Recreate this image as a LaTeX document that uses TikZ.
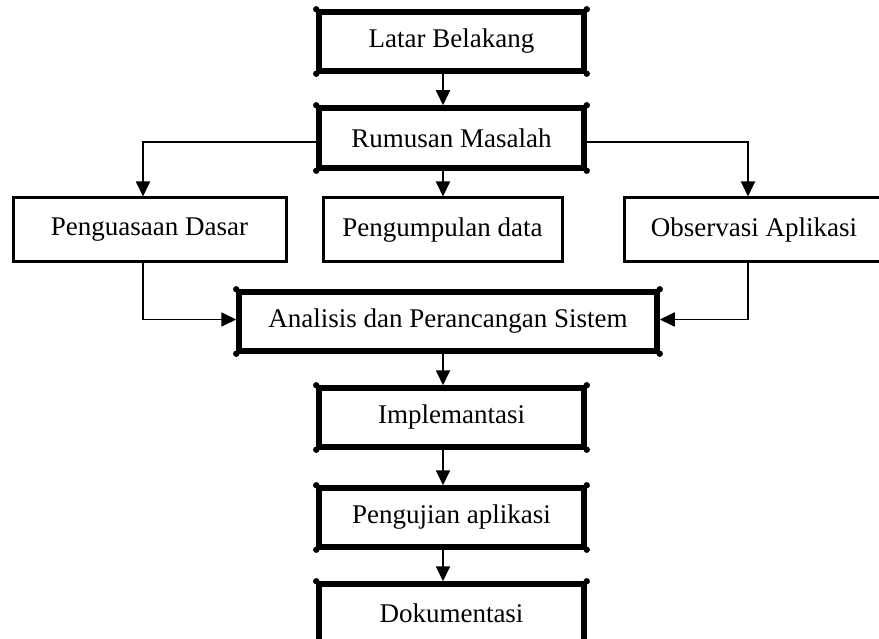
\documentclass[tikz,border=0pt]{standalone}
\usepackage{fontspec}
\setmainfont{Liberation Serif}
\usetikzlibrary{arrows.meta}
\tikzset{
    tebal/.style = {draw, line width = 5.5pt, minimum width = 265pt, minimum height = 59pt, inner sep = 0pt},
    tipis/.style = {draw, line width = 3pt, minimum height = 64pt, inner sep = 0pt},
    panah/.style = {line width = 1.8pt, -{Triangle[length = 15pt, width = 14pt]}}
}
\begin{document}
\begin{tikzpicture}[x = 1pt, y = -1pt, font = \fontsize{27}{30}\selectfont]
    \useasboundingbox (0,0) rectangle (879,639);
    \clip (0,0) rectangle (879,639);
    \def\ax{443}
    \coordinate (ax) at (\ax,0);
    \node[tebal] (latar) at (451.5,41.5) {Latar Belakang};
    \node[tebal, minimum height = 60pt] (rumusan) at (451.5,138) {Rumusan Masalah};
    \node[tipis, minimum width = 273pt] (penguasaan) at (149.5,230) {Penguasaan Dasar};
    \node[tipis, minimum width = 239pt] (pengumpulan) at (442.5,230) {Pengumpulan data};
    \node[tipis, minimum width = 260pt] (observasi) at (754,230) {Observasi Aplikasi};
    \node[tebal, minimum width = 418pt] (analisis) at (448,321.5) {Analisis dan Perancangan Sistem};
    \node[tebal] (implementasi) at (451.5,417.5) {Implemantasi};
    \node[tebal] (pengujian) at (451.5,517.5) {Pengujian aplikasi};
    \node[tebal] (dokumentasi) at (451.5,613.5) {Dokumentasi};
    \foreach \n in {latar,rumusan,analisis,implementasi,pengujian,dokumentasi}
    {
    \foreach \c in {north west,north east,south west,south east}
    \fill (\n.\c) circle (3.2pt);
    }
    \foreach \a/\b in {latar/rumusan,rumusan/pengumpulan,analisis/implementasi,implementasi/pengujian,pengujian/dokumentasi}
    {
    \draw[panah] (\a.south -| ax) -- (\b.north -| ax);
    }
    \draw[panah] ([yshift=-4]rumusan.west) -| ([xshift=-6.5]penguasaan.north);
    \draw[panah] ([yshift=-4]rumusan.east) -| ([xshift=-6]observasi.north);
    \draw[panah] ([xshift=-6.5]penguasaan.south) |- ([yshift=2]analisis.west);
    \draw[panah] ([xshift=-6]observasi.south) |- ([yshift=2]analisis.east);
\end{tikzpicture}
\end{document}
